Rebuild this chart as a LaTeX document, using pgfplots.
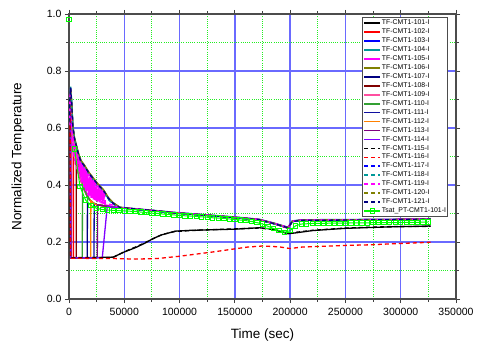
\documentclass[border=0pt]{standalone}
\usepackage{pgfplots}
\pgfplotsset{compat=1.18}
\usepackage{fontspec}
\setmainfont{Liberation Sans}
\definecolor{c101}{HTML}{000000}
\definecolor{c102}{HTML}{FF0000}
\definecolor{c103}{HTML}{0000FF}
\definecolor{c104}{HTML}{009999}
\definecolor{c105}{HTML}{FF00FF}
\definecolor{c106}{HTML}{808000}
\definecolor{c107}{HTML}{000080}
\definecolor{c108}{HTML}{800000}
\definecolor{c109}{HTML}{FF4FA0}
\definecolor{c110}{HTML}{33A033}
\definecolor{c111}{HTML}{1010A0}
\definecolor{c112}{HTML}{FF8000}
\definecolor{c113}{HTML}{800080}
\definecolor{c114}{HTML}{8000FF}
\definecolor{tsat}{HTML}{00FF00}
\definecolor{gridblue}{HTML}{6A6AFF}
\definecolor{gridgreen}{HTML}{22EE22}
\begin{document}
\begin{tikzpicture}
\begin{axis}[
  scale only axis, width=387pt, height=285pt,
  xmin=0, xmax=350000, ymin=0, ymax=1,
  xtick distance=50000, ytick distance=0.2,
  minor tick num=1,
  tick align=outside, tick pos=both,
  major tick length=4pt, minor tick length=2.5pt,
  every tick/.style={black!75, line width=0.9pt},
  grid=both,
  major grid style={color=gridblue, line width=1.3pt},
  minor grid style={color=gridgreen, line width=1.1pt, dash pattern=on 1pt off 1.2pt},
  axis line style={black!70, line width=1.3pt},
  scaled x ticks=false,
  /pgf/number format/assume math mode=true,
  xticklabel style={/pgf/number format/fixed, /pgf/number format/1000 sep={}, yshift=-1.5pt},
  yticklabel style={/pgf/number format/fixed, /pgf/number format/fixed zerofill, /pgf/number format/precision=1},
  tick label style={font=\fontsize{10.5}{12}\selectfont},
  xlabel={Time (sec)}, ylabel={Normalized Temperature},
  label style={font=\fontsize{13.5}{15}\selectfont},
  xlabel style={at={(axis description cs:0.5,-0.127)}, anchor=center},
  ylabel style={at={(axis description cs:-0.132,0.5)}, anchor=center},
  legend cell align=left,
  legend style={at={(0.757,0.989)}, anchor=north west, draw=black!70, line width=1pt,
    font=\fontsize{6.9}{7}\selectfont, inner sep=1pt, row sep=0pt,
    nodes={inner sep=0.8pt, text height=5.3pt, text depth=2.05pt},
    /tikz/every even column/.append style={column sep=2pt}},
  legend image code/.code={\draw[mark repeat=2,mark phase=2,#1,line width=1.7pt] plot coordinates {(0pt,0pt) (8pt,0pt) (16pt,0pt)};},
  tf/.style={line width=1.3pt},
  dsh/.style={line width=1.3pt, dash pattern=on 4pt off 3pt},
]
\coordinate (ll) at (rel axis cs:0,0);
\coordinate (ur) at (rel axis cs:1,1);
% 101
\addplot[c101,tf] coordinates {(0,0.62)(900,0.70)(1300,0.145)(20000,0.145)(40000,0.147)(50000,0.165)(60000,0.18)(68700,0.196)(76000,0.212)(83800,0.225)(96000,0.238)(110000,0.241)(130000,0.243)(150000,0.245)(172000,0.25)(185000,0.245)(198000,0.229)(205000,0.232)(220000,0.24)(250000,0.248)(290000,0.253)(327000,0.256)};
\addlegendentry{TF-CMT1-101-I}
% 102
\addplot[c102,tf] coordinates {(0,0.62)(800,0.70)(1300,0.72)(1600,0.145)(4000,0.145)(4200,0.555)(6500,0.50)(9000,0.44)(12000,0.40)(16500,0.36)(19600,0.345)(22600,0.335)(25600,0.33)(30000,0.328)(34600,0.325)(40000,0.322)(46000,0.32)(60000,0.315)(80000,0.308)(96000,0.302)(130000,0.292)(150000,0.286)(172000,0.278)(185000,0.265)(198000,0.248)(202000,0.272)(210000,0.276)(250000,0.277)(290000,0.278)(327000,0.28)};
\addlegendentry{TF-CMT1-102-I}
% 103
\addplot[c103,tf] coordinates {(0,0.62)(800,0.70)(1500,0.74)(2500,0.68)(3500,0.60)(5000,0.56)(7000,0.53)(9000,0.50)(11000,0.48)(14000,0.465)(18000,0.44)(22000,0.42)(26000,0.40)(31000,0.38)(36000,0.35)(40000,0.335)(46000,0.32)(60000,0.315)(80000,0.308)(96000,0.302)(130000,0.292)(150000,0.286)(172000,0.278)(185000,0.265)(198000,0.25)(202000,0.272)(210000,0.276)(250000,0.277)(290000,0.278)(327000,0.28)};
\addlegendentry{TF-CMT1-103-I}
% 104
\addplot[c104,tf] coordinates {(0,0.63)(800,0.71)(1500,0.745)(2500,0.69)(3500,0.61)(5000,0.565)(7000,0.532)(9000,0.502)(11000,0.482)(14000,0.466)(18000,0.441)(22000,0.421)(26000,0.401)(31000,0.381)(36000,0.351)(40000,0.337)(46000,0.322)(60000,0.317)(80000,0.31)(96000,0.304)(130000,0.294)(150000,0.288)(172000,0.28)(185000,0.267)(198000,0.252)(202000,0.274)(210000,0.278)(250000,0.279)(290000,0.28)(327000,0.282)};
\addlegendentry{TF-CMT1-104-I}
% 105
\addplot[c105,tf] coordinates {(0,0.61)(800,0.70)(1500,0.735)(2000,0.55)(3000,0.64)(4000,0.50)(5000,0.56)(6000,0.47)(7000,0.53)(8000,0.44)(9000,0.50)(10000,0.42)(11000,0.48)(12000,0.40)(13000,0.47)(14000,0.385)(15000,0.459)(16000,0.37)(17000,0.446)(18000,0.36)(19000,0.435)(20000,0.355)(21000,0.425)(22000,0.35)(23000,0.415)(24000,0.345)(25000,0.405)(26000,0.34)(27000,0.396)(28000,0.338)(29000,0.388)(30000,0.335)(31000,0.38)(32000,0.334)(33000,0.33)(40000,0.325)(46000,0.321)(60000,0.316)(80000,0.309)(96000,0.303)(130000,0.293)(150000,0.287)(172000,0.279)(185000,0.266)(198000,0.251)(202000,0.273)(210000,0.277)(250000,0.278)(290000,0.279)(327000,0.281)};
\addlegendentry{TF-CMT1-105-I}
% 106
\addplot[c106,tf] coordinates {(0,0.6)(800,0.69)(1500,0.73)(2500,0.685)(3500,0.607)(5000,0.566)(7000,0.536)(9000,0.506)(11000,0.486)(14000,0.47)(18000,0.445)(22000,0.425)(26000,0.405)(31000,0.385)(36000,0.354)(40000,0.338)(46000,0.322)(60000,0.316)(80000,0.309)(96000,0.302)(130000,0.292)(150000,0.286)(172000,0.278)(185000,0.265)(198000,0.25)(202000,0.272)(210000,0.276)(250000,0.277)(290000,0.278)(327000,0.28)};
\addlegendentry{TF-CMT1-106-I}
% 107
\addplot[c107,tf] coordinates {(0,0.62)(800,0.70)(1300,0.72)(1600,0.145)(16500,0.145)(16700,0.36)(19600,0.345)(22600,0.335)(25600,0.33)(30000,0.328)(34600,0.325)(40000,0.322)(46000,0.32)(60000,0.315)(80000,0.308)(96000,0.302)(130000,0.292)(150000,0.286)(172000,0.278)(185000,0.265)(198000,0.25)(202000,0.272)(210000,0.276)(250000,0.277)(290000,0.278)(327000,0.28)};
\addlegendentry{TF-CMT1-107-I}
% 108
\addplot[c108,tf] coordinates {(0,0.62)(800,0.70)(1300,0.72)(1600,0.145)(6500,0.145)(6700,0.50)(9000,0.44)(12000,0.40)(16500,0.36)(19600,0.345)(22600,0.335)(25600,0.33)(30000,0.328)(34600,0.325)(40000,0.322)(46000,0.32)(60000,0.315)(80000,0.308)(96000,0.302)(130000,0.292)(150000,0.286)(172000,0.278)(185000,0.265)(198000,0.25)(202000,0.272)(210000,0.276)(250000,0.277)(290000,0.278)(327000,0.28)};
\addlegendentry{TF-CMT1-108-I}
% 109
\addplot[c109,tf] coordinates {(0,0.62)(800,0.70)(1300,0.72)(1600,0.146)(2500,0.146)(2700,0.61)(4000,0.56)(6500,0.50)(9000,0.44)(12000,0.40)(16500,0.36)(19600,0.345)(22600,0.335)(25600,0.33)(30000,0.328)(34600,0.325)(40000,0.322)(46000,0.32)(60000,0.315)(80000,0.308)(96000,0.302)(130000,0.292)(150000,0.286)(172000,0.278)(185000,0.265)(198000,0.25)(202000,0.272)(210000,0.276)(250000,0.277)(290000,0.278)(327000,0.28)};
\addlegendentry{TF-CMT1-109-I}
% 110
\addplot[c110,tf] coordinates {(0,0.62)(800,0.70)(1300,0.72)(1600,0.145)(12000,0.145)(12200,0.40)(16500,0.36)(19600,0.345)(22600,0.335)(25600,0.33)(30000,0.328)(34600,0.325)(40000,0.322)(46000,0.32)(60000,0.315)(80000,0.308)(96000,0.302)(130000,0.292)(150000,0.286)(172000,0.278)(185000,0.265)(198000,0.25)(202000,0.272)(210000,0.276)(250000,0.277)(290000,0.278)(327000,0.28)};
\addlegendentry{TF-CMT1-110-I}
% 111
\addplot[c111,tf] coordinates {(0,0.62)(800,0.70)(1300,0.72)(1600,0.145)(22600,0.145)(22800,0.335)(25600,0.33)(30000,0.328)(34600,0.325)(40000,0.322)(46000,0.32)(60000,0.315)(80000,0.308)(96000,0.302)(130000,0.292)(150000,0.286)(172000,0.278)(185000,0.265)(198000,0.25)(202000,0.272)(210000,0.276)(250000,0.277)(290000,0.278)(327000,0.28)};
\addlegendentry{TF-CMT1-111-I}
% 112
\addplot[c112,tf] coordinates {(0,0.62)(800,0.70)(1300,0.72)(1600,0.145)(19600,0.145)(19800,0.345)(22600,0.335)(25600,0.33)(30000,0.328)(34600,0.325)(40000,0.322)(46000,0.32)(60000,0.315)(80000,0.308)(96000,0.302)(130000,0.292)(150000,0.286)(172000,0.278)(185000,0.265)(198000,0.25)(202000,0.272)(210000,0.276)(250000,0.277)(290000,0.278)(327000,0.28)};
\addlegendentry{TF-CMT1-112-I}
% 113
\addplot[c113,tf] coordinates {(0,0.62)(800,0.70)(1300,0.72)(1600,0.145)(25600,0.145)(25800,0.33)(30000,0.328)(34600,0.325)(40000,0.322)(46000,0.32)(60000,0.315)(80000,0.308)(96000,0.302)(130000,0.292)(150000,0.286)(172000,0.278)(185000,0.265)(198000,0.25)(202000,0.272)(210000,0.276)(250000,0.277)(290000,0.278)(327000,0.28)};
\addlegendentry{TF-CMT1-113-I}
% 114
\addplot[c114,tf] coordinates {(0,0.62)(800,0.70)(1300,0.72)(1600,0.145)(30100,0.145)(34600,0.325)(40000,0.322)(46000,0.321)(60000,0.316)(80000,0.309)(96000,0.303)(130000,0.293)(150000,0.287)(172000,0.279)(185000,0.266)(198000,0.251)(202000,0.273)(210000,0.277)(250000,0.278)(290000,0.279)(327000,0.281)};
\addlegendentry{TF-CMT1-114-I}
% 115
\addplot[c101,dsh] coordinates {(0,0.62)(900,0.70)(1300,0.145)(40000,0.146)(50000,0.166)(60000,0.182)(70000,0.2)(84000,0.226)(96000,0.237)(120000,0.242)(150000,0.246)(172000,0.249)(185000,0.244)(198000,0.23)(205000,0.234)(220000,0.241)(250000,0.249)(290000,0.254)(327000,0.255)};
\addlegendentry{TF-CMT1-115-I}
% 116
\addplot[c102,dsh] coordinates {(0,0.62)(900,0.70)(1300,0.143)(40000,0.142)(60000,0.14)(80000,0.142)(100000,0.15)(130000,0.165)(161000,0.182)(175000,0.186)(190000,0.183)(200000,0.177)(210000,0.182)(250000,0.188)(271000,0.19)(300000,0.195)(327000,0.199)};
\addlegendentry{TF-CMT1-116-I}
% 117
\addplot[c103,dsh] coordinates {(0,0.62)(800,0.70)(1500,0.74)(2500,0.68)(3500,0.60)(5000,0.56)(7000,0.53)(9000,0.50)(11000,0.48)(14000,0.465)(18000,0.44)(22000,0.42)(26000,0.40)(31000,0.38)(36000,0.35)(40000,0.335)(46000,0.32)(60000,0.315)(80000,0.308)(96000,0.302)(130000,0.292)(150000,0.286)(172000,0.278)(185000,0.265)(198000,0.25)(202000,0.272)(210000,0.276)(250000,0.277)(290000,0.278)(327000,0.28)};
\addlegendentry{TF-CMT1-117-I}
% 118
\addplot[c104,dsh] coordinates {(0,0.62)(800,0.70)(1500,0.737)(2500,0.677)(3500,0.597)(5000,0.557)(7000,0.527)(9000,0.497)(11000,0.477)(14000,0.462)(18000,0.437)(22000,0.417)(26000,0.397)(31000,0.377)(36000,0.347)(40000,0.333)(46000,0.319)(60000,0.314)(80000,0.307)(96000,0.301)(130000,0.291)(150000,0.285)(172000,0.277)(185000,0.264)(198000,0.249)(202000,0.271)(210000,0.275)(250000,0.276)(290000,0.277)(327000,0.279)};
\addlegendentry{TF-CMT1-118-I}
% 119
\addplot[c105,dsh] coordinates {(0,0.61)(800,0.70)(1500,0.735)(2000,0.71)(3000,0.525)(4000,0.587)(5000,0.485)(6000,0.545)(7000,0.455)(8000,0.515)(9000,0.43)(10000,0.49)(11000,0.41)(12000,0.475)(13000,0.392)(14000,0.465)(15000,0.378)(16000,0.453)(17000,0.365)(18000,0.44)(19000,0.357)(20000,0.43)(21000,0.352)(22000,0.42)(23000,0.347)(24000,0.41)(25000,0.342)(26000,0.40)(27000,0.339)(28000,0.392)(29000,0.336)(30000,0.384)(31000,0.334)(32000,0.374)(33000,0.335)(40000,0.33)(46000,0.321)(60000,0.316)(80000,0.309)(96000,0.303)(130000,0.293)(150000,0.287)(172000,0.279)(185000,0.266)(198000,0.251)(202000,0.273)(210000,0.277)(250000,0.278)(290000,0.279)(327000,0.281)};
\addlegendentry{TF-CMT1-119-I}
% 120
\addplot[c106,dsh] coordinates {(0,0.62)(800,0.70)(1500,0.74)(2500,0.683)(3500,0.603)(5000,0.563)(7000,0.533)(9000,0.503)(11000,0.483)(14000,0.468)(18000,0.443)(22000,0.423)(26000,0.403)(31000,0.383)(36000,0.353)(40000,0.337)(46000,0.321)(60000,0.316)(80000,0.309)(96000,0.303)(130000,0.293)(150000,0.287)(172000,0.279)(185000,0.266)(198000,0.251)(202000,0.273)(210000,0.277)(250000,0.278)(290000,0.279)(327000,0.281)};
\addlegendentry{TF-CMT1-120-I}
% 121
\addplot[c107,dsh] coordinates {(0,0.62)(800,0.70)(1500,0.742)(2500,0.682)(3500,0.602)(5000,0.562)(7000,0.532)(9000,0.502)(11000,0.482)(14000,0.467)(18000,0.442)(22000,0.422)(26000,0.402)(31000,0.382)(36000,0.352)(40000,0.336)(46000,0.321)(60000,0.316)(80000,0.309)(96000,0.302)(130000,0.292)(150000,0.286)(172000,0.278)(185000,0.265)(198000,0.25)(202000,0.272)(210000,0.276)(250000,0.277)(290000,0.278)(327000,0.28)};
\addlegendentry{TF-CMT1-121-I}
% Tsat
\addplot[tsat, line width=1pt, mark=square, mark size=2.2pt, mark options={solid, fill=white, line width=0.9pt}] coordinates {(5000,0.526)(10000,0.394)(15000,0.347)(20000,0.328)(25000,0.318)(30000,0.314)(35000,0.312)(40000,0.311)(45000,0.31)(50000,0.309)(55000,0.308)(60000,0.307)(65000,0.305)(70000,0.303)(75000,0.301)(80000,0.3)(85000,0.298)(90000,0.297)(95000,0.295)(100000,0.293)(105000,0.292)(110000,0.291)(115000,0.29)(120000,0.288)(125000,0.287)(130000,0.285)(135000,0.284)(140000,0.283)(145000,0.281)(150000,0.279)(155000,0.277)(160000,0.275)(165000,0.272)(170000,0.268)(175000,0.263)(180000,0.255)(185000,0.247)(190000,0.24)(195000,0.234)(200000,0.24)(205000,0.257)(210000,0.263)(215000,0.264)(220000,0.265)(225000,0.265)(230000,0.265)(235000,0.266)(240000,0.266)(245000,0.266)(250000,0.266)(255000,0.267)(260000,0.267)(265000,0.267)(270000,0.267)(275000,0.268)(280000,0.268)(285000,0.268)(290000,0.268)(295000,0.268)(300000,0.269)(305000,0.269)(310000,0.269)(315000,0.269)(320000,0.27)(325000,0.27)};
\addlegendentry{Tsat\_PT-CMT1-101-I}
\addplot[tsat, only marks, mark=square, mark size=2.2pt, mark options={solid, fill=white, line width=0.9pt}, forget plot] coordinates {(0,0.98)};
\end{axis}
\pgfresetboundingbox
\path ([shift={(-69pt,-51pt)}]ll) rectangle ([shift={(25pt,14pt)}]ur);
\end{tikzpicture}
\end{document}
